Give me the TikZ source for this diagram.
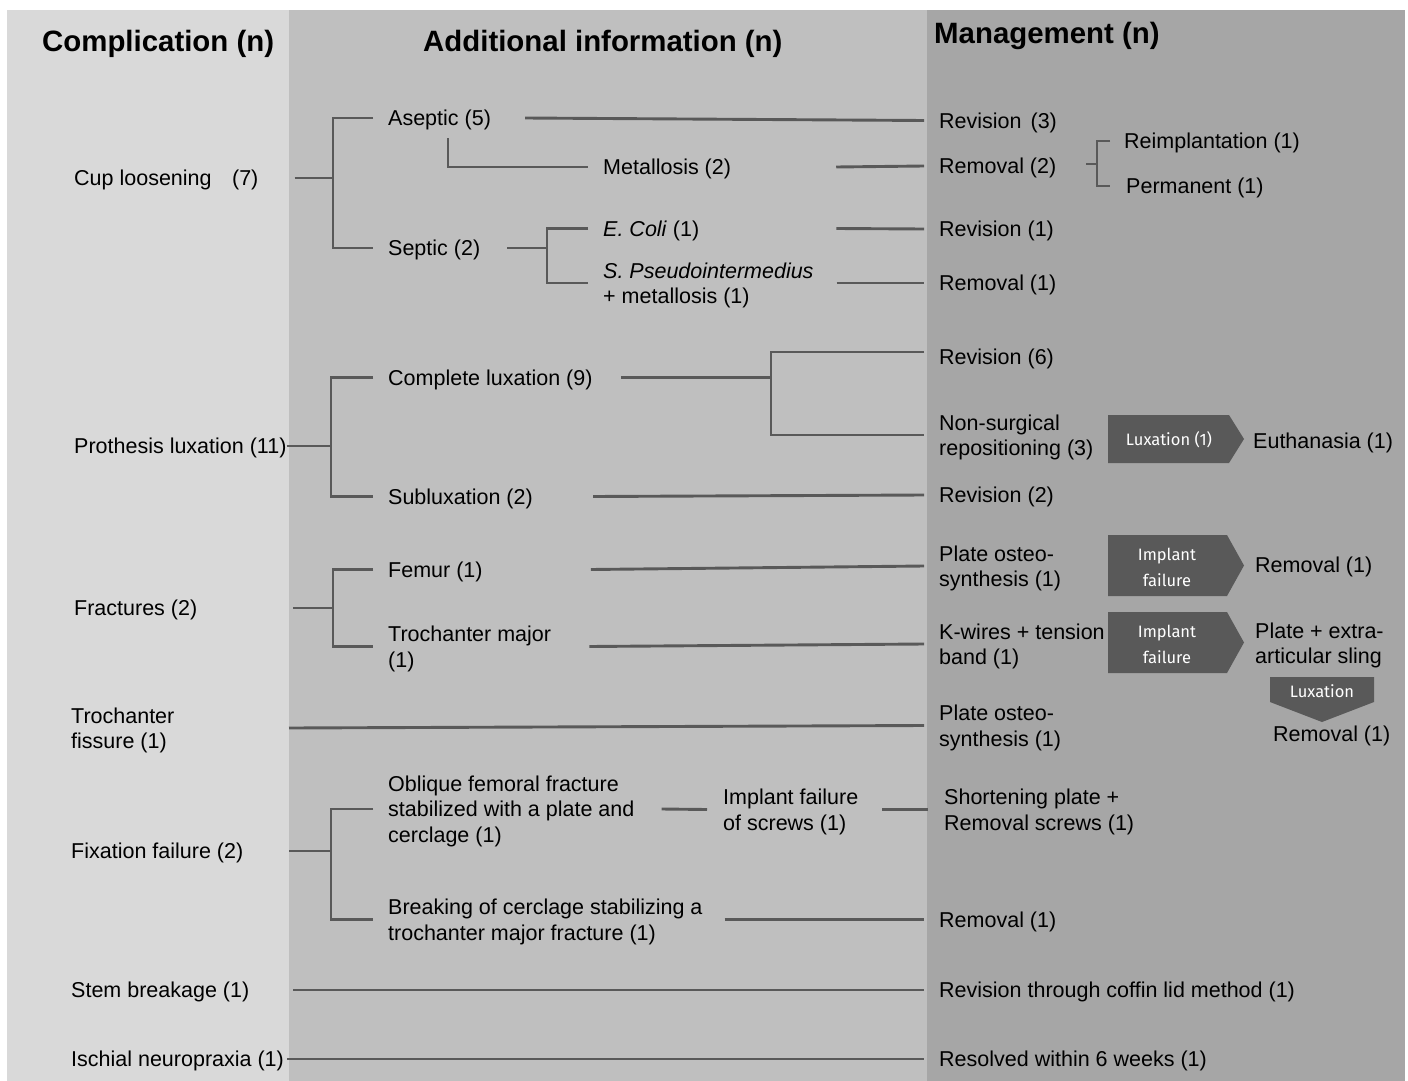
\documentclass[tikz,border=0pt]{standalone}
\usepackage{fontspec}
\setmainfont{Liberation Sans}
\newfontfamily\chevfont{Fira Sans}
\definecolor{bgA}{HTML}{D9D9D9}
\definecolor{bgB}{HTML}{BFBFBF}
\definecolor{bgC}{HTML}{A6A6A6}
\definecolor{linec}{HTML}{595959}
\definecolor{chevc}{HTML}{595959}
\newcommand\tstrut{\rule{0pt}{20pt}}
\tikzset{
  txt/.style={anchor=west, inner sep=0pt, align=left, text=black, font=\fontsize{21.5}{25.5}\selectfont,
    execute at begin node={\rule{0pt}{20pt}}},
  hdr/.style={anchor=west, inner sep=0pt, yshift=-3pt, text=black, font=\fontsize{29.4}{34}\selectfont\bfseries},
  ln/.style={draw=linec, line width=2.9pt},
  chev/.style={fill=chevc},
  chevtxt/.style={inner sep=0pt, align=center, text=white, font=\chevfont\fontsize{16.5}{26.5}\selectfont}
}
\begin{document}
\begin{tikzpicture}[x=1pt,y=-1pt]
\useasboundingbox (0,0) rectangle (1408,1081);
\fill[white] (0,0) rectangle (1408,1081);
\fill[bgA] (7,10) rectangle (289,1081);
\fill[bgB] (289,10) rectangle (927,1081);
\fill[bgC] (927,10) rectangle (1405,1081);

% headers
\node[hdr] (h1) at (42,41) {Complication (n)};
\node[hdr] (h2) at (423,41) {Additional information (n)};
\node[hdr] (h3) at (934,33) {Management (n)};

% column 1
\node[txt] (cup) at (74,178) {Cup loosening\hspace{20.5pt}(7)};
\node[txt] (prot) at (74,446) {Prothesis luxation (11)};
\node[txt] (fract) at (74,608) {Fractures (2)};
\node[txt] (fissure) at (71,728) {\tstrut Trochanter\\fissure (1)};
\node[txt] (fixation) at (71,851) {Fixation failure (2)};
\node[txt] (stem) at (71,990) {Stem breakage (1)};
\node[txt] (ischial) at (71,1059) {Ischial neuropraxia (1)};

% column 2
\node[txt] (aseptic) at (388,118) {Aseptic (5)};
\node[txt] (metal) at (603,167) {Metallosis (2)};
\node[txt] (septic) at (388,248) {Septic (2)};
\node[txt] (ecoli) at (603,228.5) {\textit{E. Coli} (1)};
\node[txt] (pseudo) at (603,283) {\tstrut\textit{S. Pseudointermedius}\\+ metallosis (1)};
\node[txt] (complete) at (388,377.5) {Complete luxation (9)};
\node[txt] (sublux) at (388,496.5) {Subluxation (2)};
\node[txt] (femur) at (388,569.5) {Femur (1)};
\node[txt] (trochmaj) at (388,646.5) {\tstrut Trochanter major\\(1)};
\node[txt] (oblique) at (388,809) {\tstrut Oblique femoral fracture\\stabilized with a plate and\\cerclage (1)};
\node[txt] (implscrew) at (723,809.5) {\tstrut Implant failure\\of screws (1)};
\node[txt] (breaking) at (388,919.5) {\tstrut Breaking of cerclage stabilizing a\\trochanter major fracture (1)};

% column 3
\node[txt] (rev3) at (939,120.5) {Revision\hspace{9pt}(3)};
\node[txt] (rem2) at (939,166) {Removal (2)};
\node[txt] (reimp) at (1124,141) {Reimplantation (1)};
\node[txt] (perm) at (1126,186) {Permanent (1)};
\node[txt] (rev1) at (939,229) {Revision (1)};
\node[txt] (rem1a) at (939,283) {Removal (1)};
\node[txt] (rev6) at (939,357) {Revision (6)};
\node[txt] (nonsurg) at (939,435) {\tstrut Non-surgical\\repositioning (3)};
\node[txt] (euth) at (1253,441) {Euthanasia (1)};
\node[txt] (rev2) at (939,495) {Revision (2)};
\node[txt] (plate1) at (939,566) {\tstrut Plate osteo-\\synthesis (1)};
\node[txt] (rem1b) at (1255,565) {Removal (1)};
\node[txt] (kwires) at (939,644) {\tstrut K-wires + tension\\band (1)};
\node[txt] (sling) at (1255,643) {\tstrut Plate + extra-\\articular sling};
\node[txt] (plate2) at (939,725.5) {\tstrut Plate osteo-\\synthesis (1)};
\node[txt] (rem1c) at (1273,734) {Removal (1)};
\node[txt] (shorten) at (944,809.5) {\tstrut Shortening plate +\\Removal screws (1)};
\node[txt] (rem1d) at (939,919.5) {Removal (1)};
\node[txt] (coffin) at (939,990) {Revision through coffin lid method (1)};
\node[txt] (resolved) at (939,1059) {Resolved within 6 weeks (1)};

% chevrons
\fill[chev] (1108,415) -- (1229,415) -- (1244,439) -- (1229,463) -- (1108,463) -- cycle;
\node[chevtxt] (lux1) at (1169,440) {Luxation (1)};
\fill[chev] (1108,535) -- (1227,535) -- (1244,565.5) -- (1227,596) -- (1108,596) -- cycle;
\node[chevtxt] (impl1) at (1167,567.5) {Implant\\failure};
\fill[chev] (1108,612) -- (1227,612) -- (1244,642.5) -- (1227,673) -- (1108,673) -- cycle;
\node[chevtxt] (impl2) at (1167,644.5) {Implant\\failure};
\fill[chev] (1270,677) -- (1374,677) -- (1374,702) -- (1322,722) -- (1270,702) -- cycle;
\node[chevtxt] (lux2) at (1322,691) {Luxation};

% connectors
\coordinate (colB) at (289,0);
\coordinate (cupj) at (333,178);
\draw[ln] ([xshift=36pt]cup.east) -- (cupj);
\draw[ln] ([xshift=-15pt]aseptic.west) -| (cupj) |- ([xshift=-15pt]septic.west);
\draw[ln] ([xshift=34pt]aseptic.east) -- ([xshift=-15pt]rev3.west);
\draw[ln] ([xshift=60pt,yshift=-20pt]aseptic.west) |- ([xshift=-15pt]metal.west);
\draw[ln] ([xshift=105pt]metal.east) -- ([xshift=-15pt]rem2.west);
\coordinate (septj) at (547,248);
\draw[ln] ([xshift=27pt]septic.east) -- (septj);
\draw[ln] ([xshift=-15pt]ecoli.west) -| (septj) |- ([xshift=-15pt]pseudo.west);
\draw[ln] ([xshift=137pt]ecoli.east) -- ([xshift=-15pt]rev1.west);
\draw[ln] ([xshift=23pt]pseudo.east) -- ([xshift=-15pt]rem1a.west);
\coordinate (bracj) at (1097,164);
\draw[ln, line width=2.4pt] ([xshift=30pt,yshift=2pt]rem2.east) -- (bracj);
\draw[ln, line width=2.4pt] ([xshift=-14pt]reimp.west) -| (bracj) |- ([xshift=-16pt]perm.west);

\coordinate (protj) at (331,446);
\draw[ln] (prot.east) -- (protj);
\draw[ln] ([xshift=-15pt]complete.west) -| (protj) |- ([xshift=-15pt]sublux.west);
\coordinate (complj) at (771,377.5);
\draw[ln] ([xshift=28pt]complete.east) -- (complj);
\draw[ln] ([xshift=-15pt,yshift=5pt]rev6.west) -| (complj) |- ([xshift=-15pt]nonsurg.west);
\draw[ln] ([xshift=60pt]sublux.east) -- ([xshift=-15pt]rev2.west);

\coordinate (fractj) at (333,608);
\draw[ln] ([xshift=96pt]fract.east) -- (fractj);
\draw[ln] ([xshift=-15pt]femur.west) -| (fractj) |- ([xshift=-15pt]trochmaj.west);
\draw[ln] ([xshift=108pt]femur.east) -- ([xshift=-15pt]plate1.west);
\draw[ln] ([xshift=38pt]trochmaj.east) -- ([xshift=-15pt]kwires.west);

\draw[ln] (fissure.east -| colB) -- ([xshift=-15pt]plate2.west);

\coordinate (fixj) at (331,851);
\draw[ln] ([xshift=46pt]fixation.east) -- (fixj);
\draw[ln] ([xshift=-15pt]oblique.west) -| (fixj) |- ([xshift=-15pt]breaking.west);
\draw[ln] ([xshift=27pt]oblique.east) -- ([xshift=-16pt]implscrew.west);
\draw[ln] ([xshift=24pt]implscrew.east) -- ([xshift=-16pt]shorten.west);
\draw[ln] ([xshift=22pt]breaking.east) -- ([xshift=-15pt]rem1d.west);
\draw[ln] ([xshift=44pt]stem.east) -- ([xshift=-15pt]coffin.west);
\draw[ln] ([xshift=3pt]ischial.east) -- ([xshift=-15pt]resolved.west);
\end{tikzpicture}
\end{document}
